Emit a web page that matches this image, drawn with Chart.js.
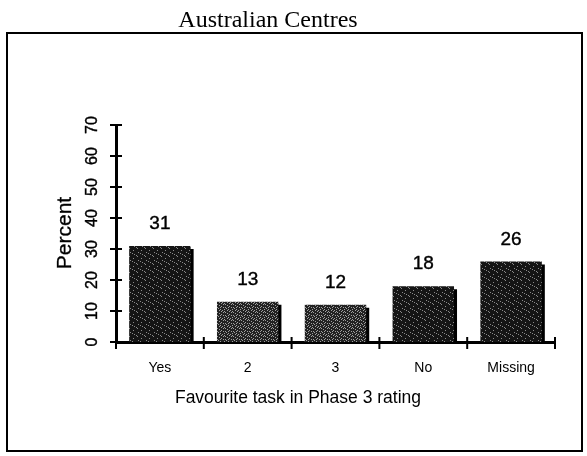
<!DOCTYPE html>
<html lang="en">
<head>
    <meta charset="UTF-8">
    <title>Australian Centres</title>
    <script src="https://cdn.jsdelivr.net/npm/chart.js"></script>
    <style>
        html, body { margin: 0; padding: 0; background: #fff; }
        #wrap { width: 587px; height: 456px; position: relative; }
    </style>
</head>
<body>
    <div id="wrap"><canvas id="chart" width="587" height="456"></canvas></div>

    <script>
        const categories = ['Yes', '2', '3', 'No', 'Missing'];
        const percents = [31, 13, 12, 18, 26];
        const yTicks = [0, 10, 20, 30, 40, 50, 60, 70];
        const chartTitle = 'Australian Centres';
        const xTitle = 'Favourite task in Phase 3 rating';
        const yTitle = 'Percent';

        // stipple texture like the scanned bars (fixed dot layout)
        function stipple(base, dot, dots) {
            const c = document.createElement('canvas');
            c.width = 8; c.height = 8;
            const g = c.getContext('2d');
            g.fillStyle = base;
            g.fillRect(0, 0, 8, 8);
            g.fillStyle = dot;
            dots.forEach(([x, y]) => g.fillRect(x, y, 1, 1));
            return g.createPattern(c, 'repeat');
        }
        const ctx = document.getElementById('chart').getContext('2d');
        const fewDots = [[1, 0], [5, 2], [2, 4], [6, 6], [0, 7], [4, 5]];
        const manyDots = fewDots.concat([[3, 1], [7, 3], [1, 3], [5, 7], [3, 6], [7, 0], [0, 5], [4, 3]]);
        const darkFill = stipple('#151515', '#8a8a8a', fewDots);
        const lightFill = stipple('#222', '#a0a0a0', manyDots);
        const barFills = [darkFill, lightFill, lightFill, darkFill, darkFill];

        // draw text with a thin outline so it looks as heavy as the scan
        function heavyText(c, s, x, y, w) {
            c.fillText(s, x, y);
            c.lineWidth = w;
            c.strokeText(s, x, y);
        }

        const decor = {
            id: 'decor',
            beforeDatasetsDraw(chart) {
                const c = chart.ctx;
                c.save();
                c.shadowColor = '#000';
                c.shadowOffsetX = 3;
                c.shadowOffsetY = 3;
                c.shadowBlur = 0;
            },
            afterDatasetsDraw(chart) {
                const c = chart.ctx;
                c.restore();
                const x = chart.scales.x, y = chart.scales.y;
                c.save();
                c.fillStyle = '#000';
                c.strokeStyle = '#000';

                // frame + title
                c.lineWidth = 2;
                c.strokeRect(7, 33, 575, 418);
                c.font = '24px "Liberation Serif", "Times New Roman", serif';
                c.textAlign = 'center';
                c.textBaseline = 'middle';
                c.fillText(chartTitle, 268, 21);

                // value labels
                c.font = '19px "Liberation Sans", Arial, sans-serif';
                chart.getDatasetMeta(0).data.forEach((bar, i) => {
                    heavyText(c, String(percents[i]), bar.x, bar.y - 22, 0.4);
                });

                // y ticks crossing the axis, rotated labels
                c.font = '16px "Liberation Sans", Arial, sans-serif';
                yTicks.forEach(v => {
                    const py = y.getPixelForValue(v);
                    c.lineWidth = 2;
                    c.beginPath();
                    c.moveTo(x.left - 6, py);
                    c.lineTo(x.left + 6, py);
                    c.stroke();
                    c.save();
                    c.translate(93, py);
                    c.rotate(-Math.PI / 2);
                    heavyText(c, String(v), 0, 0, 0.4);
                    c.restore();
                });

                // x ticks at category boundaries
                const bounds = [x.left];
                for (let i = 1; i < categories.length; i++) {
                    bounds.push((x.getPixelForValue(i - 1) + x.getPixelForValue(i)) / 2);
                }
                bounds.push(x.right);
                c.lineWidth = 2;
                bounds.forEach(px => {
                    c.beginPath();
                    c.moveTo(px, y.bottom - 5);
                    c.lineTo(px, y.bottom + 7);
                    c.stroke();
                });

                // axis titles
                c.font = '17.5px "Liberation Sans", Arial, sans-serif';
                c.fillText(xTitle, 298, 398);
                c.save();
                c.translate(65, 233);
                c.rotate(-Math.PI / 2);
                c.font = '21px "Liberation Sans", Arial, sans-serif';
                heavyText(c, yTitle, 0, 0, 0.3);
                c.restore();
                c.restore();
            }
        };

        new Chart(ctx, {
            type: 'bar',
            data: {
                labels: categories,
                datasets: [{
                    data: percents,
                    backgroundColor: barFills,
                    borderWidth: 0,
                    barPercentage: 0.7,
                    categoryPercentage: 1
                }]
            },
            options: {
                responsive: false,
                animation: false,
                events: [],
                layout: { padding: { top: 125, right: 32, left: 0, bottom: 0 } },
                plugins: { legend: { display: false }, tooltip: { enabled: false } },
                scales: {
                    x: {
                        grid: { display: false },
                        border: { display: true, color: '#000', width: 3 },
                        ticks: {
                            color: '#000',
                            padding: 10,
                            font: { family: '"Liberation Sans", Arial, sans-serif', size: 14 }
                        },
                        afterFit(s) { s.height = 114; }
                    },
                    y: {
                        min: 0,
                        max: 70,
                        grid: { display: false },
                        border: { display: true, color: '#000', width: 3 },
                        ticks: { display: false, stepSize: 10 },
                        afterFit(s) { s.width = 116; }
                    }
                }
            },
            plugins: [decor]
        });
    </script>
</body>
</html>
